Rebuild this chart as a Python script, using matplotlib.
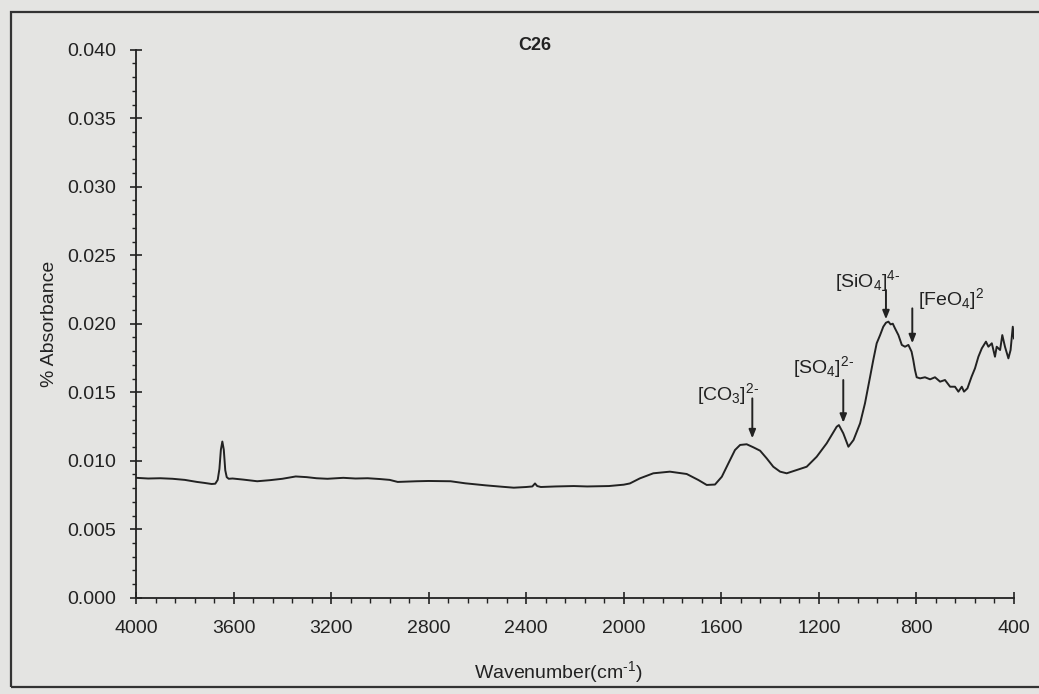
import matplotlib
matplotlib.use("Agg")
import matplotlib.pyplot as plt
from matplotlib.ticker import MultipleLocator, FormatStrFormatter
from matplotlib.patches import Rectangle

plt.rcParams['font.family'] = ['Liberation Sans', 'DejaVu Sans']
plt.rcParams['mathtext.fontset'] = 'custom'
plt.rcParams['mathtext.rm'] = 'Liberation Sans'
plt.rcParams['mathtext.it'] = 'Liberation Sans:italic'
plt.rcParams['mathtext.bf'] = 'Liberation Sans:bold'

# ---- data ----
wavenumber = [4000, 3950, 3900, 3850, 3800, 3750, 3720, 3690, 3675, 3665, 3658, 3652,
              3646, 3640, 3634, 3628, 3620, 3604, 3560, 3503, 3450, 3400, 3345, 3300,
              3260, 3215, 3150, 3100, 3050, 2999, 2960, 2927, 2850, 2800, 2710, 2650,
              2566, 2500, 2451, 2400, 2375, 2364, 2355, 2340, 2280, 2205, 2150, 2061,
              2000, 1975, 1934, 1879, 1811, 1742, 1694, 1660, 1626, 1598, 1571, 1544,
              1523, 1496, 1469, 1441, 1414, 1387, 1359, 1332, 1291, 1250, 1209, 1168,
              1127, 1118, 1100, 1079, 1058, 1031, 1011, 990, 977, 963, 949, 936, 925,
              915, 906, 897, 888, 874, 860, 847, 833, 820, 813, 806, 799, 785, 765, 744,
              724, 703, 683, 662, 642, 628, 614, 605, 591, 574, 560, 546, 532, 515, 505,
              491, 478, 471, 457, 448, 437, 423, 414, 405, 400]
absorbance = [0.00875, 0.00870, 0.00872, 0.00868, 0.00860, 0.00845, 0.00838, 0.00830,
              0.00832, 0.00860, 0.00940, 0.01080, 0.01140, 0.01080, 0.00930, 0.00880,
              0.00868, 0.00870, 0.00862, 0.00850, 0.00858, 0.00868, 0.00885, 0.00880,
              0.00872, 0.00868, 0.00875, 0.00870, 0.00872, 0.00866, 0.00860, 0.00845,
              0.00850, 0.00852, 0.00850, 0.00835, 0.00820, 0.00810, 0.00803, 0.00808,
              0.00812, 0.00834, 0.00815, 0.00808, 0.00812, 0.00815, 0.00812, 0.00815,
              0.00825, 0.00834, 0.00871, 0.00908, 0.00920, 0.00903, 0.00859, 0.00823,
              0.00826, 0.00883, 0.00981, 0.01078, 0.01115, 0.01120, 0.01098, 0.01073,
              0.01017, 0.00956, 0.00920, 0.00908, 0.00932, 0.00956, 0.01029, 0.01127,
              0.01248, 0.01260, 0.01200, 0.01102, 0.01151, 0.01273, 0.01419, 0.01613,
              0.01735, 0.01857, 0.01917, 0.01978, 0.02007, 0.02015, 0.01995, 0.02000,
              0.01966, 0.01917, 0.01845, 0.01832, 0.01845, 0.01796, 0.01735, 0.01662,
              0.01609, 0.01601, 0.01609, 0.01594, 0.01609, 0.01577, 0.01589, 0.01540,
              0.01540, 0.01504, 0.01540, 0.01504, 0.01528, 0.01613, 0.01674, 0.01759,
              0.01820, 0.01869, 0.01832, 0.01857, 0.01759, 0.01832, 0.01808, 0.01917,
              0.01832, 0.01747, 0.01808, 0.01978, 0.01893]

x_ticks = [4000, 3600, 3200, 2800, 2400, 2000, 1600, 1200, 800, 400]
y_ticks = [0.000, 0.005, 0.010, 0.015, 0.020, 0.025, 0.030, 0.035, 0.040]

# band annotations
band_labels = [r'$[\mathrm{CO}_3]^{2\text{-}}$', r'$[\mathrm{SO}_4]^{2\text{-}}$',
               r'$[\mathrm{SiO}_4]^{4\text{-}}$', r'$[\mathrm{FeO}_4]^{2}$']
band_arrow_x = [1473, 1100, 925, 817]
band_arrow_tail = [0.01455, 0.01589, 0.02246, 0.02112]
band_arrow_tip = [0.01163, 0.01277, 0.02032, 0.01857]
band_label_x = [1700, 1307, 1134, 792]
band_label_y = [0.01442, 0.01638, 0.02270, 0.02137]

title = 'C26'
x_label = r'Wavenumber(cm$^{\text{-}1}$)'
y_label = '% Absorbance'

# ---- figure ----
bg = '#e4e4e2'
ink = '#222222'
fig = plt.figure(figsize=(10.39, 6.94), dpi=100, facecolor=bg)
W, H = 1039, 694
ax_left, ax_right, ax_top, ax_bot = 136, 1014, 49.7, 597.7
ax = fig.add_axes([ax_left / W, 1 - ax_bot / H, (ax_right - ax_left) / W, (ax_bot - ax_top) / H])
ax.set_facecolor(bg)

ax.plot(wavenumber, absorbance, color=ink, lw=1.4, solid_joinstyle='round')

ax.set_xlim(4000, 400)
ax.set_ylim(0, 0.040)
ax.set_xticks(x_ticks)
ax.set_yticks(y_ticks)
ax.xaxis.set_minor_locator(MultipleLocator(80))
ax.yaxis.set_minor_locator(MultipleLocator(0.001))
ax.yaxis.set_major_formatter(FormatStrFormatter('%.3f'))

for s in ['top', 'right']:
    ax.spines[s].set_visible(False)
for s in ['left', 'bottom']:
    ax.spines[s].set_linewidth(1.3)
    ax.spines[s].set_color(ink)

ax.tick_params(axis='x', which='major', direction='inout', length=8, width=1.2,
               colors=ink, labelsize=14, pad=12)
ax.tick_params(axis='x', which='minor', direction='out', length=3.5, width=1.0, colors=ink)
ax.tick_params(axis='y', which='major', direction='inout', length=8, width=1.2,
               colors=ink, labelsize=14, pad=10)
ax.tick_params(axis='y', which='minor', direction='out', length=3, width=1.0, colors=ink)

for lab, xa, yt, yp, lx, ly in zip(band_labels, band_arrow_x, band_arrow_tail,
                                  band_arrow_tip, band_label_x, band_label_y):
    ax.annotate('', xy=(xa, yp), xytext=(xa, yt),
                arrowprops=dict(arrowstyle='-|>,head_length=0.5,head_width=0.2',
                                color=ink, lw=1.4, shrinkA=0, shrinkB=0))
    ax.text(lx, ly, lab, fontsize=14, color=ink, ha='left', va='baseline')

fig.text(535 / W, 1 - 45 / H, title, fontsize=13, fontweight='bold', color=ink,
         ha='center', va='center')
fig.text(558 / W, 1 - 672 / H, x_label, fontsize=14, color=ink, ha='center', va='center')
fig.text(50 / W, 1 - 323.7 / H, y_label, fontsize=14, color=ink, ha='center',
         va='center', rotation=90)

# outer chart border
fig.patches.append(Rectangle((11 / W, 1 - 687 / H), 1.2, (687 - 12) / H,
                             transform=fig.transFigure, fill=False,
                             edgecolor='#333333', lw=1.6))

fig.savefig('out.png', dpi=100, facecolor=bg)
